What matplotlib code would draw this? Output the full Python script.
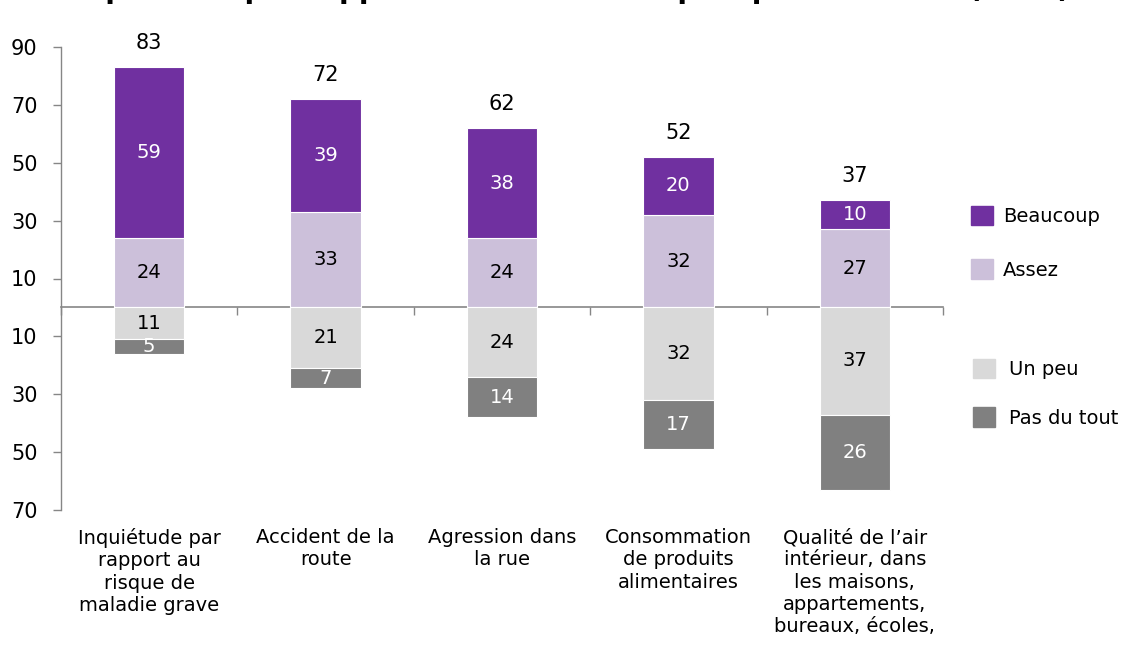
import matplotlib
matplotlib.use("Agg")
import matplotlib.pyplot as plt
from matplotlib.patches import Patch
import numpy as np

categories = [
    "Inquiétude par\nrapport au\nrisque de\nmaladie grave",
    "Accident de la\nroute",
    "Agression dans\nla rue",
    "Consommation\nde produits\nalimentaires",
    "Qualité de l’air\nintérieur, dans\nles maisons,\nappartements,\nbureaux, écoles,",
]
beaucoup = [59, 39, 38, 20, 10]
assez = [24, 33, 24, 32, 27]
un_peu = [11, 21, 24, 32, 37]
pas_du_tout = [5, 7, 14, 17, 26]
totals = [83, 72, 62, 52, 37]
ytick_values = [-70, -50, -30, -10, 10, 30, 50, 70, 90]
title = "Inquiétude par rapport à différents risques pour la santé (en %)"

c_beau = "#7030A0"
c_assez = "#CCC0DA"
c_peu = "#D9D9D9"
c_pas = "#808080"
axis_col = "#868686"

plt.rcParams["font.family"] = ["DejaVu Sans"]

fig = plt.figure(figsize=(11.32, 6.45), dpi=100)
ax = fig.add_axes([61/1132, 135/645, (943-61)/1132, (510-47)/645])

x = np.arange(len(categories))
w = 0.4
b_assez = np.array(assez)
b_beau = np.array(beaucoup)
b_peu = -np.array(un_peu)
b_pas = -np.array(pas_du_tout)

ec = "white"
lw = 0.8
r1 = ax.bar(x, b_assez, w, color=c_assez, edgecolor=ec, linewidth=lw)
r2 = ax.bar(x, b_beau, w, bottom=b_assez, color=c_beau, edgecolor=ec, linewidth=lw)
r3 = ax.bar(x, b_peu, w, color=c_peu, edgecolor=ec, linewidth=lw)
r4 = ax.bar(x, b_pas, w, bottom=b_peu, color=c_pas, edgecolor=ec, linewidth=lw)

fs_lab = 14
ax.bar_label(r1, labels=[str(v) for v in assez], label_type="center", color="black", fontsize=fs_lab)
ax.bar_label(r2, labels=[str(v) for v in beaucoup], label_type="center", color="white", fontsize=fs_lab)
ax.bar_label(r3, labels=[str(v) for v in un_peu], label_type="center", color="black", fontsize=fs_lab)
ax.bar_label(r4, labels=[str(v) for v in pas_du_tout], label_type="center", color="white", fontsize=fs_lab)

for xi, t in zip(x, totals):
    ax.annotate(str(t), (xi, t), xytext=(0, 10), textcoords="offset points",
                ha="center", va="bottom", fontsize=15, color="black")

ax.set_xlim(-0.5, len(categories) - 0.5)
ax.set_ylim(-70, 90)
ax.set_yticks(ytick_values)
ax.set_yticklabels([str(abs(v)) for v in ytick_values])
ax.tick_params(axis="y", length=6, width=1, color=axis_col, labelsize=15, pad=11)

ax.set_xticks(x)
ax.set_xticklabels(categories, fontsize=14, linespacing=1.22, va="top")
ax.tick_params(axis="x", length=0, pad=13)

for s in ["top", "right", "bottom"]:
    ax.spines[s].set_visible(False)
ax.spines["left"].set_color(axis_col)
ax.spines["left"].set_linewidth(1)

sec = ax.secondary_xaxis(0, transform=ax.transData)
sec.set_xticks(np.arange(len(categories) + 1) - 0.5)
sec.set_xticklabels([])
sec.tick_params(length=6, width=1, color=axis_col, direction="out")
sec.spines["bottom"].set_color(axis_col)
sec.spines["bottom"].set_linewidth(1.2)

leg1 = fig.legend(handles=[Patch(color=c_beau, label="Beaucoup"), Patch(color=c_assez, label="Assez")],
                  loc="upper left", bbox_to_anchor=(971/1132, 1 - 206/645), frameon=False,
                  fontsize=14, handlelength=1.15, handleheight=1.15, handletextpad=0.5,
                  labelspacing=1.7, borderpad=0, borderaxespad=0)
leg2 = fig.legend(handles=[Patch(color=c_peu, label="Un peu"), Patch(color=c_pas, label="Pas du tout")],
                  loc="upper left", bbox_to_anchor=(973/1132, 1 - 359/645), frameon=False,
                  fontsize=14, handlelength=1.15, handleheight=1.15, handletextpad=0.7,
                  labelspacing=1.45, borderpad=0, borderaxespad=0)

fig.text(1070/1132, 1 + 2/645, title, ha="right", va="baseline", fontsize=20, fontweight="bold")

fig.savefig("out.png", dpi=100)
